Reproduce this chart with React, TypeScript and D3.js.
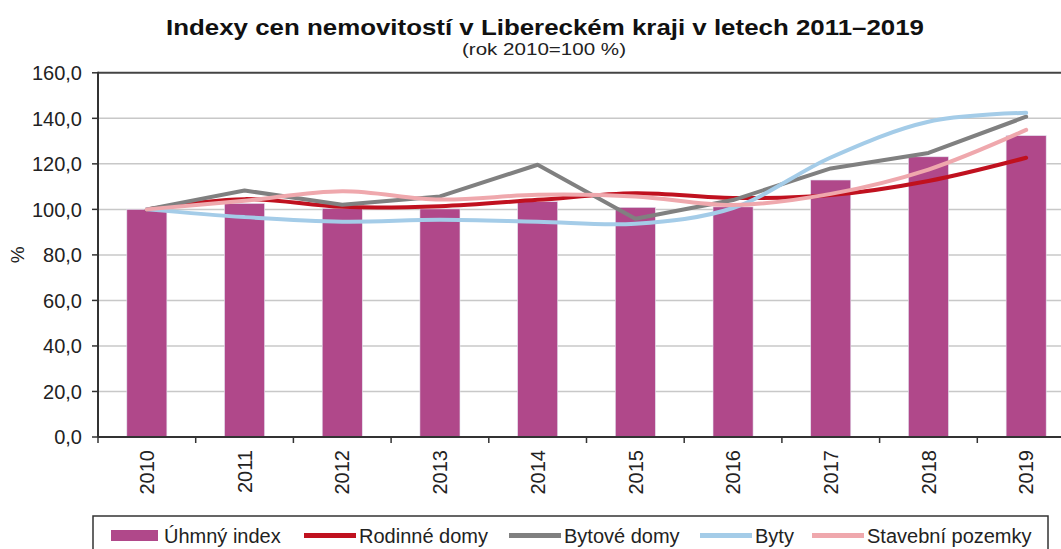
import React from 'react';
import * as d3 from 'd3';

const years = ['2010', '2011', '2012', '2013', '2014', '2015', '2016', '2017', '2018', '2019'];
const uhrnny = [100.0, 102.6, 100.4, 100.2, 103.4, 100.9, 101.1, 112.9, 123.1, 132.4];
const rodinne = [100.0, 104.5, 101.1, 101.4, 104.2, 107.1, 105.0, 106.3, 112.5, 122.7];
const bytove = [100.0, 108.3, 102.0, 105.7, 119.6, 95.9, 104.1, 118.0, 124.8, 140.7];
const byty = [100.0, 96.6, 94.6, 95.4, 94.6, 93.7, 100.6, 122.8, 138.5, 142.4];
const pozemky = [100.0, 103.8, 108.0, 104.3, 106.4, 105.7, 101.9, 106.8, 117.5, 134.9];
const yTicks = [0, 20, 40, 60, 80, 100, 120, 140, 160];

const title = 'Indexy cen nemovitostí v Libereckém kraji v letech 2011–2019';
const subtitle = '(rok 2010=100 %)';

const lineSeries = [
  { name: 'Rodinné domy', values: rodinne, color: '#c0111f', smooth: true },
  { name: 'Bytové domy', values: bytove, color: '#808080', smooth: false },
  { name: 'Byty', values: byty, color: '#a4cce8', smooth: true },
  { name: 'Stavební pozemky', values: pozemky, color: '#efa8ad', smooth: true },
];
const barName = 'Úhmný index';
const barColor = '#b0488a';

const W = 1061;
const H = 549;
const font = '"Liberation Sans", Arial, sans-serif';

export default function App() {
  const left = 98;
  const bandW = 97.7;
  const x = d3.scaleBand().domain(years).range([left, left + bandW * years.length]).paddingInner(0.59).paddingOuter(0.295);
  const xb = d3.scaleBand().domain(years).range([left, left + bandW * years.length]);
  const y = d3.scaleLinear().domain([0, 160]).range([437, 72.8]);

  const cx = (i: number) => (xb(years[i]) as number) + xb.bandwidth() / 2;

  const legendItems = [
    { name: barName, color: barColor, bar: true, x: 111 },
    { name: lineSeries[0].name, color: lineSeries[0].color, bar: false, x: 304 },
    { name: lineSeries[1].name, color: lineSeries[1].color, bar: false, x: 509 },
    { name: lineSeries[2].name, color: lineSeries[2].color, bar: false, x: 700 },
    { name: lineSeries[3].name, color: lineSeries[3].color, bar: false, x: 812 },
  ];

  return (
    <svg width={W} height={H} style={{ position: 'absolute', left: 0, top: 0, background: '#fff' }} fontFamily={font}>
      <text x={545} y={35} textAnchor="middle" fontSize={22} fontWeight="bold" fill="#111" textLength={758} lengthAdjust="spacingAndGlyphs">{title}</text>
      <text x={544} y={55} textAnchor="middle" fontSize={17} fill="#222" textLength={164} lengthAdjust="spacingAndGlyphs">{subtitle}</text>

      {/* gridlines */}
      {yTicks.map((t) => (
        <line key={t} x1={left} x2={W} y1={y(t)} y2={y(t)} stroke={t === 160 ? '#444' : '#c8c8c8'} strokeWidth={t === 160 ? 2 : 1.5} />
      ))}

      {/* bars */}
      {years.map((yr, i) => (
        <rect key={yr} x={x(yr)} y={y(uhrnny[i])} width={x.bandwidth()} height={y(0) - y(uhrnny[i])} fill={barColor} stroke="#e4e4f0" strokeWidth={0.6} />
      ))}

      {/* lines */}
      {lineSeries.map((s) => {
        const gen = d3.line<number>()
          .x((_, i) => cx(i))
          .y((v) => y(v))
          .curve(s.smooth ? d3.curveCatmullRom.alpha(0.5) : d3.curveLinear);
        return <path key={s.name} d={gen(s.values) || ''} fill="none" stroke={s.color} strokeWidth={4} strokeLinejoin="round" strokeLinecap="round" />;
      })}

      {/* y axis */}
      <line x1={left} x2={left} y1={y(160) - 1} y2={y(0)} stroke="#333" strokeWidth={2} />
      {yTicks.map((t) => (
        <g key={t}>
          <line x1={left - 6} x2={left} y1={y(t)} y2={y(t)} stroke="#333" strokeWidth={1.5} />
          <text x={82} y={y(t)} dy="0.36em" textAnchor="end" fontSize={20} fill="#222">{d3.format('.1f')(t).replace('.', ',')}</text>
        </g>
      ))}
      <text transform={`translate(24,${y(80)}) rotate(-90)`} textAnchor="middle" fontSize={19} fill="#222">%</text>

      {/* x axis */}
      <line x1={left} x2={W} y1={y(0)} y2={y(0)} stroke="#333" strokeWidth={2} />
      {years.map((yr, i) => (
        <g key={yr}>
          <line x1={xb(yr)} x2={xb(yr)} y1={y(0)} y2={y(0) + 6} stroke="#333" strokeWidth={1.5} />
          <text transform={`translate(${cx(i)},${y(0) + 13}) rotate(-90)`} textAnchor="end" dy="0.36em" fontSize={20} fill="#222">{yr}</text>
        </g>
      ))}

      {/* legend */}
      <rect x={93} y={516} width={955} height={50} fill="#fff" stroke="#333" strokeWidth={1.5} />
      {legendItems.map((it) => (
        <g key={it.name}>
          {it.bar ? (
            <rect x={it.x} y={530} width={47} height={11} fill={it.color} />
          ) : (
            <line x1={it.x} x2={it.x + 52} y1={535.5} y2={535.5} stroke={it.color} strokeWidth={5} />
          )}
          <text x={it.x + (it.bar ? 53 : 55)} y={535.5} dy="0.36em" fontSize={20} fill="#222">{it.name}</text>
        </g>
      ))}
    </svg>
  );
}
